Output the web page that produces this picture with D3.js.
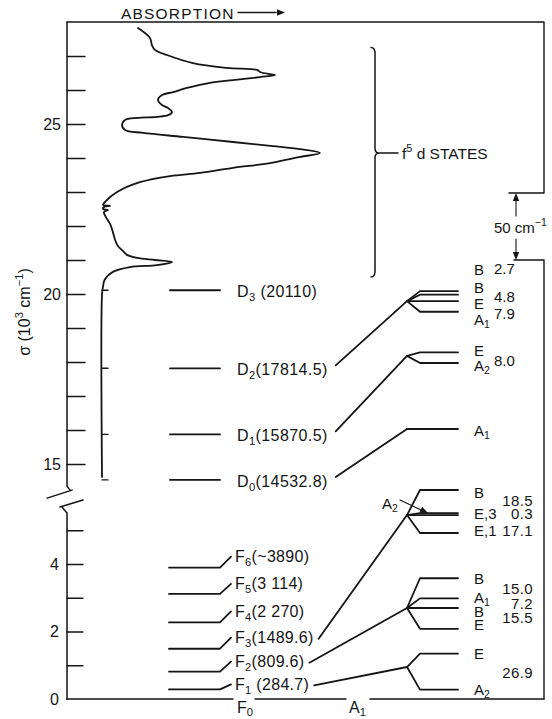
<!DOCTYPE html>
<html><head><meta charset="utf-8">
<script src="https://cdn.jsdelivr.net/npm/d3@7"></script>
<style>
body{margin:0;background:#fff}
svg{display:block;background:#fff}
text{font-family:"Liberation Sans",Arial,sans-serif;fill:#151515}
</style></head><body>
<svg id="c" width="552" height="719"></svg>
<script>
// ---------------- DATA ----------------
const upperTicks = [15,16,17,18,19,20,21,22,23,24,25,26,27];
const upperTickLabels = [15,20,25];
const lowerTicks = [1,2,3,4,5];
const lowerTickLabels = [0,2,4];

// absorption spectrum (sigma in 10^3 cm^-1, absorption arbitrary units)
const specSigma = [27.82,27.53,27.32,27.18,27.03,26.79,26.65,26.59,26.53,26.50,26.44,26.38,26.29,26.21,26.06,25.94,25.85,25.71,25.56,25.47,25.35,25.26,25.21,25.18,25.12,24.97,24.82,24.74,24.62,24.47,24.35,24.26,24.15,24.03,23.85,23.71,23.56,23.47,23.29,23.00,22.71,22.62,22.59,22.56,22.50,22.47,22.41,22.26,22.06,21.82,21.59,21.41,21.29,21.15,21.06,21.00,20.94,20.85,20.79,20.65,20.44,20.24,19.97,14.62];
const specAbs   = [16.5,22.0,22.9,24.3,29.8,41.7,57.3,71.1,72.5,73.9,79.4,72.5,60.1,49.5,39.0,32.6,27.5,25.7,27.5,30.3,32.1,30.3,25.2,16.1,10.6,9.2,10.6,18.8,37.2,60.1,78.4,90.8,100,90.8,77.1,60.1,45.0,31.2,17.4,6.9,1.4,0.5,3.7,0.9,0.5,2.8,0.9,1.8,3.7,5.0,6.0,7.3,9.2,11.5,16.1,24.3,32.1,25.2,12.8,5.0,1.4,0.5,0,0];

// D levels (cm^-1)
const dNames  = ["3","2","1","0"];
const dEnergy = [20110,17814.5,15870.5,14532.8];
const dLabels = [" (20110)","(17814.5)","(15870.5)","(14532.8)"];

// F levels (cm^-1)
const fNames  = ["1","2","3","4","5","6"];
const fEnergy = [284.7,809.6,1489.6,2270,3114,3890];
const fLabels = [" (284.7)","(809.6)","(1489.6)","(2 270)","(3 114)","(~3890)"];

// crystal-field groups (right side)
const groupFrom    = ["D2","D1","D0","F3","F2","F1"];
const groupCenter  = [19.79,18.18,16.03,5.45,2.696,0.948];   // diagram position, 10^3 cm^-1
const groupOffsets = [[7.5,4.8,0,-7.9],[2.67,-5.33],[0],[18.7,1.5,-0.7,-13.4],[22.2,7.2,0,-15.5],[10,-16.9]]; // cm^-1
const groupSymbols = [["B","B","E","A1"],["E","A2"],["A1"],["B","E,3","A2","E,1"],["B","A1","B","E"],["E","A2"]];
const groupSplits  = [["2.7","4.8","7.9"],["8.0"],[],["18.5","0.3","17.1"],["15.0","7.2","15.5"],["26.9"]];
const scaleBarCm = 50;

// ---------------- DRAWING ----------------
const svg = d3.select("#c");
const ink = "#151515";
const yU = d3.scaleLinear().domain([15,25]).range([464,124]);
const yL = d3.scaleLinear().domain([0,4]).range([699,564]);
const xA = d3.scaleLinear().domain([0,100]).range([102,320]);
const sp = d3.scaleLinear().domain([0,scaleBarCm]).range([0,67]);
const axisX = 67, frameR = 544;
const FS = 16;

function rich(g, x, y, parts, opt={}) {
  const size = opt.size||FS;
  const t = g.append("text").attr("x",x).attr("y",y).attr("font-size",size)
    .attr("text-anchor",opt.anchor||"start");
  if (opt.ls) t.attr("letter-spacing",opt.ls);
  let shift = 0;
  parts.forEach(p=>{
    const s = t.append("tspan").text(p.t);
    let target = p.sub ? (opt.subShift||4) : p.sup ? -7 : 0;
    if (target!==shift) { s.attr("dy", target-shift); shift = target; }
    if (p.sub||p.sup) s.attr("font-size",size*0.7);
  });
  return t;
}
function symParts(s){
  const m = /^([A-Z])(\d)$/.exec(s);
  return m ? [{t:m[1]},{t:m[2],sub:true}] : [{t:s}];
}
function arrowHead(g, x, y, ang){
  const L=8, W=3.2;
  const c=Math.cos(ang), s=Math.sin(ang);
  const p=[[x,y],[x-L*c+W*s,y-L*s-W*c],[x-L*c-W*s,y-L*s+W*c]];
  g.append("path").attr("d","M"+p.map(q=>q.join(",")).join("L")+"Z").attr("fill",ink);
}

const g = svg.append("g").attr("stroke-linecap","round").attr("stroke-linejoin","round");

// ----- axes -----
const topY = yU(28), upBreak = yU(14.35), lowTop = yL(5.6);
const barBot = yU(21.0), barTop = barBot - sp(scaleBarCm);

g.append("path").attr("fill","none").attr("stroke",ink).attr("stroke-width",1.5)
  .attr("d",`M${axisX},${topY}V${upBreak}L${axisX+3},${upBreak+4}M${axisX-20},${upBreak+12}L${axisX+5},${upBreak+4}`
      +`M${axisX-7},${lowTop-3}L${axisX+16},${lowTop-10}M${axisX-5},${lowTop-3}L${axisX},${lowTop+3}V${yL(0)}`);

const axU = g.append("g").attr("transform",`translate(${axisX},0)`)
  .call(d3.axisRight(yU).tickValues(upperTicks).tickSize(18).tickFormat(""));
const axUL = g.append("g").attr("transform",`translate(${axisX},0)`)
  .call(d3.axisLeft(yU).tickValues(upperTickLabels).tickSize(0).tickPadding(6).tickFormat(d3.format("d")));
const axL = g.append("g").attr("transform",`translate(${axisX},0)`)
  .call(d3.axisRight(yL).tickValues(lowerTicks).tickSize(16).tickFormat(""));
const axLL = g.append("g").attr("transform",`translate(${axisX},0)`)
  .call(d3.axisLeft(yL).tickValues(lowerTickLabels).tickSize(0).tickPadding(8).tickFormat(d3.format("d")));
[axU,axUL,axL,axLL].forEach(a=>{
  a.select(".domain").remove();
  a.selectAll("line").attr("stroke",ink).attr("stroke-width",1.3);
  a.selectAll("text").attr("font-size",FS).attr("fill",ink)
   .attr("font-family","Liberation Sans, Arial, sans-serif");
});

// y title
const yt = g.append("g").attr("transform","translate(30,312) rotate(-90)");
rich(yt,0,0,[{t:"σ (10"},{t:"3",sup:true},{t:" cm"},{t:"−1",sup:true},{t:")"}],{anchor:"middle",size:16});

// ABSORPTION label + arrow
rich(g,121,19,[{t:"ABSORPTION"}],{size:15.5,ls:1.2});
g.append("line").attr("x1",238).attr("x2",276).attr("y1",12.5).attr("y2",12.5).attr("stroke",ink).attr("stroke-width",1.4);
arrowHead(g,285,12.5,0);

// frame
g.append("path").attr("fill","none").attr("stroke",ink).attr("stroke-width",1.4)
  .attr("d",`M${axisX},${topY}H${frameR}V${barTop}H509M514,${barBot}H${frameR}V${yL(0)}`);
// scale bar
g.append("line").attr("x1",516).attr("x2",516).attr("y1",barTop+6).attr("y2",barTop+23).attr("stroke",ink).attr("stroke-width",1.1);
arrowHead(g,516,barTop,-Math.PI/2);
g.append("line").attr("x1",516).attr("x2",516).attr("y1",barBot-21).attr("y2",barBot-6).attr("stroke",ink).attr("stroke-width",1.1);
arrowHead(g,516,barBot,Math.PI/2);
rich(g,494,(barTop+barBot)/2+6,[{t:"50 cm"},{t:"−1",sup:true}],{size:15});

// bottom labels & line
const f0 = rich(g,237,713,[{t:"F"},{t:"0",sub:true}],{subShift:3});
const a1 = rich(g,349,713,[{t:"A"},{t:"1",sub:true}],{subShift:3});
const b0 = f0.node().getBBox(), b1 = a1.node().getBBox();
g.append("path").attr("fill","none").attr("stroke",ink).attr("stroke-width",1.4)
  .attr("d",`M${axisX},${yL(0)}H${b0.x-4}M${b0.x+b0.width+2},${yL(0)}H${b1.x-3}M${b1.x+b1.width+4},${yL(0)}H${frameR}`);

// ----- spectrum -----
const spec = specSigma.map((s,i)=>[xA(specAbs[i]), yU(s)]);
g.append("path").datum(spec).attr("fill","none").attr("stroke",ink).attr("stroke-width",1.8)
  .attr("d",d3.line().curve(d3.curveCatmullRom.alpha(0.5)));
dEnergy.forEach(e=>{
  g.append("line").attr("x1",xA(0)).attr("x2",xA(0)+6).attr("y1",yU(e/1000)).attr("y2",yU(e/1000))
   .attr("stroke",ink).attr("stroke-width",1.4);
});

// f5d bracket
const bTop=yU(27.25), bBot=yU(20.5), bTip=yU(24.15), bx=375;
g.append("path").attr("fill","none").attr("stroke",ink).attr("stroke-width",1.5)
  .attr("d",`M${bx-4},${bTop}Q${bx},${bTop} ${bx},${bTop+6}V${bTip-5}Q${bx},${bTip} ${bx+4},${bTip}Q${bx},${bTip} ${bx},${bTip+5}V${bBot-6}Q${bx},${bBot} ${bx-4},${bBot}M${bx+4},${bTip}H398`);
rich(g,402,bTip+6,[{t:"f"},{t:"5",sup:true},{t:" d  STATES"}],{size:15.5});

// ----- levels -----
const starts = {};
dEnergy.forEach((e,i)=>{
  const y = yU(e/1000);
  g.append("line").attr("x1",170).attr("x2",220).attr("y1",y).attr("y2",y).attr("stroke",ink).attr("stroke-width",1.8);
  const t = rich(g,237,y+7,[{t:"D"},{t:dNames[i],sub:true},{t:dLabels[i]}],{ls:0.4});
  const bb = t.node().getBBox();
  starts["D"+dNames[i]] = [bb.x+bb.width+8, y-3];
});
const fLift = [5,10,11,11,10,11];
fEnergy.forEach((e,i)=>{
  const y = yL(e/1000), ly = y - fLift[i];
  g.append("path").attr("fill","none").attr("stroke",ink).attr("stroke-width",1.8)
    .attr("d",`M169,${y}H220L231,${ly}`);
  const t = rich(g,235,ly+5.5,[{t:"F"},{t:fNames[i],sub:true},{t:fLabels[i]}],{ls:0.3});
  const bb = t.node().getBBox();
  starts["F"+fNames[i]] = [bb.x+bb.width+5, ly+1];
});

// ----- crystal-field splittings -----
const splitX = 407, kneeX = 420, endX = 458, symX = 474;
const RS = 15;
const symDy = [[-22,-7,2,8],[-2,2],[2],[2,0,0,-3],[0,-1,3,-4],[0,0]];
const symShow = [[1,1,1,1],[1,1],[1],[1,1,0,1],[1,1,1,1],[1,1]];
const numDy = [[-24,-1,7],[3],[],[-1,-1,5.5],[0,0,-1],[1]];
groupFrom.forEach((from,gi)=>{
  const isD = from[0]==="D";
  const cy = isD ? yU(groupCenter[gi]) : yL(groupCenter[gi]);
  const st = starts[from];
  g.append("line").attr("x1",st[0]).attr("y1",st[1]).attr("x2",splitX).attr("y2",cy)
   .attr("stroke",ink).attr("stroke-width",1.8);
  const ys = groupOffsets[gi].map(o=>cy - sp(o));
  ys.forEach((ly,li)=>{
    const d = Math.abs(ly-cy) < 1 ? `M${splitX},${cy}H${endX}` : `M${splitX},${cy}L${kneeX},${ly}H${endX}`;
    g.append("path").attr("fill","none").attr("stroke",ink).attr("stroke-width",1.8).attr("d",d);
    if (symShow[gi][li]) rich(g,symX,ly+symDy[gi][li]+5.5,symParts(groupSymbols[gi][li]),{size:RS,subShift:3});
  });
  groupSplits[gi].forEach((n,ni)=>{
    const my = (ys[ni]+ys[ni+1])/2 + numDy[gi][ni] + 5.5;
    if (isD) rich(g,494,my,[{t:n}],{size:RS});
    else rich(g,533,my,[{t:n}],{anchor:"end",size:RS,ls:0.4});
  });
  if (from==="F3") {
    const ya = ys[2];
    rich(g,382,ya-7,symParts("A2"),{size:RS,subShift:3});
    g.append("line").attr("x1",400).attr("y1",ya-16).attr("x2",421).attr("y2",ya-6)
     .attr("stroke",ink).attr("stroke-width",1.1);
    arrowHead(g,428,ya-3,Math.atan2(10,21));
  }
});
</script>
</body></html>
